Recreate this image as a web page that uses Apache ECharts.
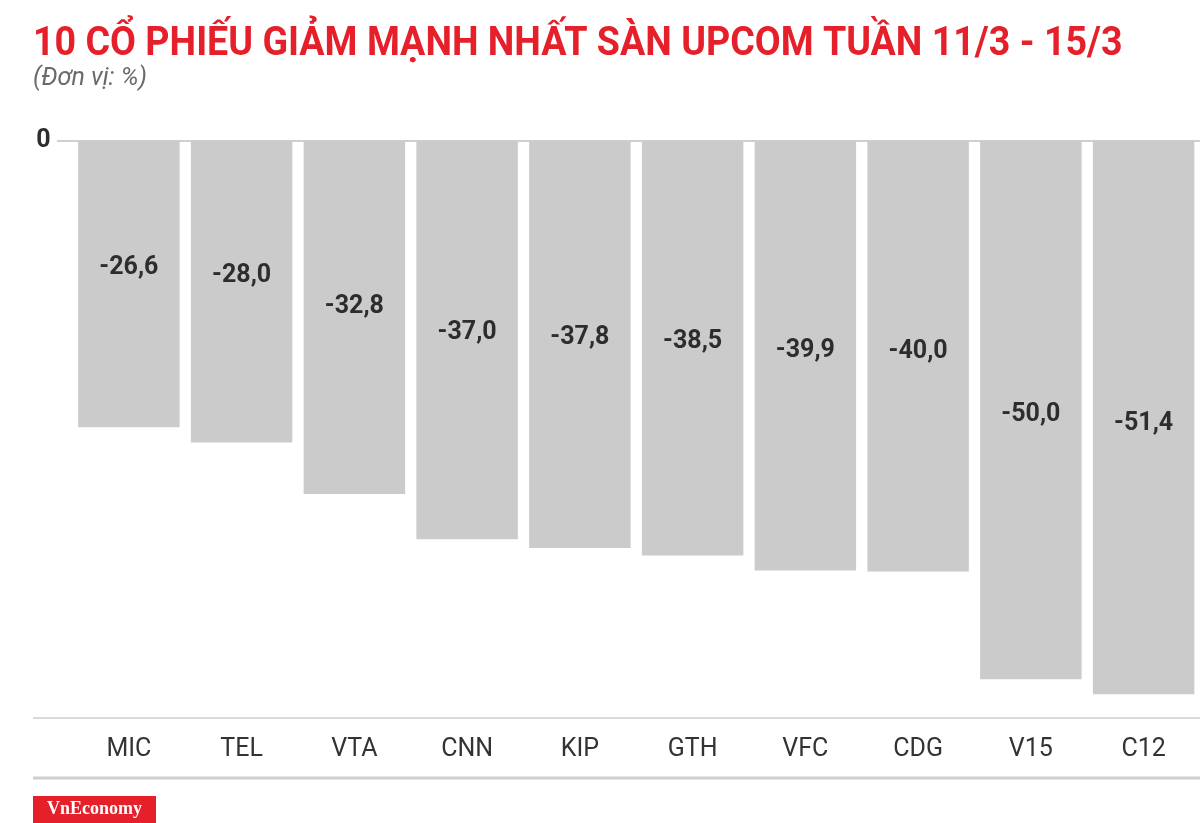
<!DOCTYPE html>
<html>
<head>
<meta charset="utf-8">
<script src="https://cdn.jsdelivr.net/npm/echarts@6/dist/echarts.min.js"></script>
<style>
html,body{margin:0;padding:0;background:#fff;}
#c{width:1200px;height:823px;}
</style>
</head>
<body>
<div id="c"></div>
<script>
const titleText = '10 CỔ PHIẾU GIẢM MẠNH NHẤT SÀN UPCOM TUẦN 11/3 - 15/3';
const subtitleText = '(Đơn vị: %)';
const categories = ['MIC','TEL','VTA','CNN','KIP','GTH','VFC','CDG','V15','C12'];
const values = [-26.6, -28.0, -32.8, -37.0, -37.8, -38.5, -39.9, -40.0, -50.0, -51.4];
const yTickLabels = ['0'];

const FONT = "'Roboto', sans-serif";
const chart = echarts.init(document.getElementById('c'), null, {renderer:'canvas'});

const yMin = -53.6;
const option = {
  animation: false,
  backgroundColor: '#ffffff',
  title: [{
    text: subtitleText,
    left: 33, top: 66, padding: 0,
    textStyle: {fontFamily: FONT, fontStyle: 'italic', fontWeight: 'normal', fontSize: 25, color: '#6a6a6a'}
  }],
  grid: {left: 72.5, top: 141, width: 1130, height: 577, containLabel: false},
  xAxis: {
    type: 'category',
    data: categories,
    position: 'bottom',
    axisLine: {show: false, onZero: false},
    axisTick: {show: false},
    axisLabel: {fontFamily: FONT, fontSize: 25, color: '#333333', margin: 19}
  },
  yAxis: {
    type: 'value',
    min: yMin, max: 0,
    axisLine: {show: false},
    axisTick: {show: false},
    splitLine: {show: false},
    axisLabel: {
      show: true,
      fontFamily: FONT, fontWeight: 'bold', fontSize: 25, color: '#2d2d2d',
      margin: 22,
      customValues: [0],
      formatter: (v) => v === 0 ? yTickLabels[0] : ''
    }
  },
  series: [{
    type: 'bar',
    data: values.map(v => ({
      value: v,
      label: {position: ['50%', -41 + 6.29 * Math.abs(v)]}
    })),
    barCategoryGap: '10%',
    itemStyle: {color: '#cccbcc'},
    label: {
      show: true,
      align: 'center', verticalAlign: 'middle',
      fontFamily: FONT, fontWeight: 'bold', fontSize: 25, color: '#2d2d2d',
      formatter: (p) => p.value.toFixed(1).replace('.', ',')
    }
  }]
};
chart.setOption(option);

const zeroY = chart.convertToPixel({yAxisIndex: 0}, 0);
const baseY = chart.convertToPixel({yAxisIndex: 0}, yMin);
chart.setOption({
  graphic: [
    {type: 'text', x: 33, y: 24, scaleX: 0.917, style: {text: titleText, fill: '#e5202b', font: "bold 41px 'Roboto', sans-serif", textAlign: 'left', textVerticalAlign: 'top'}},
    {type: 'line', shape: {x1: 57, y1: zeroY, x2: 1200, y2: zeroY}, style: {stroke: '#cfcfcf', lineWidth: 2}, z: 0},
    {type: 'line', shape: {x1: 33, y1: baseY, x2: 1200, y2: baseY}, style: {stroke: '#cfcfcf', lineWidth: 1.5}},
    {type: 'line', shape: {x1: 33, y1: 778, x2: 1200, y2: 778}, style: {stroke: '#cfcfcf', lineWidth: 3}},
    {type: 'rect', shape: {x: 33, y: 796, width: 123, height: 27}, style: {fill: '#e5202b'}},
    {type: 'text', x: 94.5, y: 809.5, style: {text: 'VnEconomy', fill: '#ffffff', font: "bold 18px 'Liberation Serif', serif", textAlign: 'center', textVerticalAlign: 'middle'}}
  ]
});
</script>
</body>
</html>
